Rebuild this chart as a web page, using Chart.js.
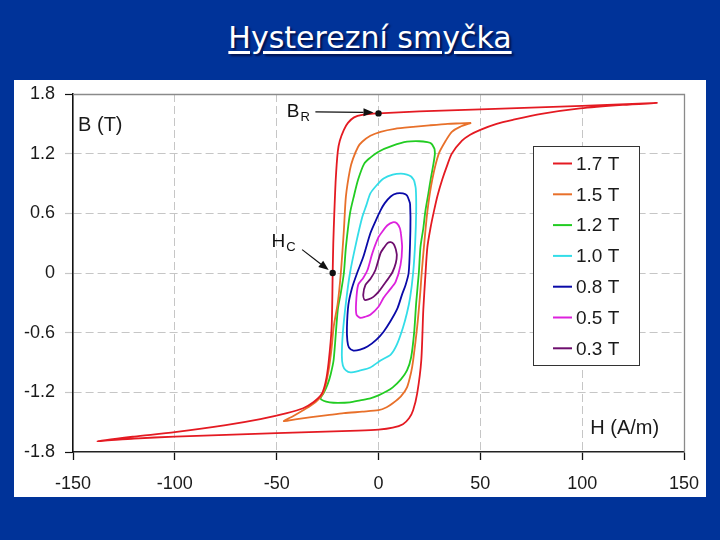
<!DOCTYPE html>
<html>
<head>
<meta charset="utf-8">
<script src="https://cdn.jsdelivr.net/npm/chart.js@4"></script>
<style>
  html, body { margin:0; padding:0; }
  body { width:720px; height:540px; background:#003399; position:relative; overflow:hidden; }
  #title { position:absolute; left:10px; width:720px; top:21px; text-align:center;
    font-family:"DejaVu Sans", sans-serif; font-size:30px; line-height:34px; color:#fff;
    text-decoration:underline; text-decoration-thickness:3px; text-underline-offset:3px;
    text-shadow:2px 2px 2px rgba(0,0,40,0.7); }
  #panel { position:absolute; left:14px; top:80px; width:692px; height:417px; background:#fff; }
  canvas { display:block; }
</style>
</head>
<body>
<div id="title">Hysterezní smyčka</div>
<div id="panel"><canvas id="c" width="692" height="417" style="width:692px;height:417px"></canvas></div>
<script>
// ---------- DATA (H in A/m, B in T), each loop: upper branch then lower branch ----------
const seriesLabels = ['1.7 T', '1.5 T', '1.2 T', '1.0 T', '0.8 T', '0.5 T', '0.3 T'];

const H_17 = [137,100,50,20,0,-8,-12,-15,-17,-19,-20,-21,-21.7,-22.2,-22.5,-23,-24.5,-26,-28,-32,-37,-45,-58,-75,-100,-120,-138,
              -120,-100,-50,-10,0,7,12,15,17,19,21,22,23.1,24,25.5,27.2,29,31.3,33.5,36,41,45,50,58,66,80,99,120,137];
const B_17 = [1.71,1.68,1.645,1.625,1.605,1.59,1.565,1.51,1.44,1.33,1.22,0.94,0.6,0.3,0,-0.54,-0.9,-1.1,-1.22,-1.30,-1.36,-1.41,-1.47,-1.53,-1.60,-1.645,-1.69,
              -1.665,-1.645,-1.61,-1.585,-1.575,-1.555,-1.52,-1.46,-1.38,-1.21,-0.88,-0.37,0,0.26,0.45,0.62,0.78,0.94,1.07,1.2,1.33,1.39,1.44,1.5,1.54,1.6,1.655,1.69,1.71];

const H_15 = [45.5,40,34,25,17,8,1,-4,-8,-10,-12.5,-14,-16,-17,-18.5,-20,-22,-23,-24.5,-27,-31,-37,-42,-46.5,
              -40,-33,-25,-17,-8,0,4,7,11,14,16,17,19,20.5,21.2,22.3,24,26.4,29.6,33,36,40,45.5];
const B_15 = [1.51,1.505,1.50,1.485,1.47,1.45,1.42,1.38,1.32,1.27,1.15,1.04,0.77,0.43,0,-0.3,-0.54,-0.75,-0.98,-1.2,-1.3,-1.38,-1.44,-1.49,
              -1.47,-1.45,-1.43,-1.41,-1.395,-1.38,-1.35,-1.31,-1.24,-1.15,-1.0,-0.88,-0.54,-0.2,0,0.26,0.62,0.94,1.2,1.33,1.42,1.47,1.51];

const H_12 = [27.5,26,24,20,14,7,0,-4,-7,-10,-12,-14,-16,-17,-18.5,-20,-22,-23.5,-25,-27,-28.5,
              -27,-24,-20,-14,-9,-4,0,4,7,11,14,16,17.5,18.5,19.8,20.6,22,23,24.5,25.6,27,27.7,27.5];
const B_12 = [1.25,1.30,1.315,1.325,1.32,1.28,1.22,1.16,1.10,0.94,0.78,0.60,0.26,0,-0.2,-0.37,-0.87,-1.02,-1.12,-1.21,-1.26,
              -1.285,-1.3,-1.305,-1.30,-1.28,-1.26,-1.23,-1.19,-1.15,-1.07,-0.98,-0.85,-0.6,-0.3,0,0.26,0.45,0.62,0.8,0.94,1.1,1.2,1.25];

const H_10 = [17.5,16,14,11,7,2.5,-1,-4,-6,-8,-11,-14,-16,-17.5,-18,-17.5,-16,
              -13.8,-9,-4,1,6,9,12,14,15.5,17,18,18.5,18.3,17.5];
const B_10 = [0.93,0.97,0.99,1.0,0.99,0.95,0.88,0.80,0.68,0.56,0.30,0.0,-0.3,-0.6,-0.83,-0.93,-0.98,
              -1.0,-0.98,-0.95,-0.88,-0.82,-0.72,-0.55,-0.40,-0.25,0.0,0.30,0.62,0.85,0.93];

const H_08 = [15.5,14,12,9,6,3,1,-1.5,-4,-7.5,-10.5,-13,-14.8,-15.5,-15.3,-14.5,-12.3,
              -9,-5.4,-1,2.5,6,9.4,11.5,13.3,14.8,15.5,15.7,15.5];
const B_08 = [0.70,0.78,0.80,0.80,0.77,0.70,0.63,0.52,0.40,0.16,0.0,-0.15,-0.32,-0.55,-0.68,-0.75,-0.78,
              -0.77,-0.74,-0.67,-0.59,-0.48,-0.35,-0.22,-0.12,0.0,0.30,0.55,0.70];

const H_05 = [11,10.5,9,7,4.4,2,0,-3,-5.4,-7.5,-10,-11,-10.8,-9,
              -6.5,-4,0,2.5,5.5,8.4,10.8,11.6,11];
const B_05 = [0.40,0.45,0.50,0.51,0.48,0.42,0.36,0.20,0.03,-0.05,-0.12,-0.30,-0.42,-0.45,
              -0.44,-0.42,-0.34,-0.25,-0.17,-0.09,0.08,0.26,0.40];

const H_03 = [8.5,7.5,6,4.4,2.5,1,-1.5,-4,-6.4,-7.5,-6.8,
              -5,-2.5,0,2.5,5,6.9,8.5,9,8.5];
const B_03 = [0.24,0.29,0.31,0.30,0.25,0.20,0.03,-0.06,-0.12,-0.22,-0.27,
              -0.265,-0.24,-0.19,-0.12,-0.05,0.01,0.10,0.18,0.24];

const xTicks = [-150, -100, -50, 0, 50, 100, 150];
const xTickLabels = ['-150', '-100', '-50', '0', '50', '100', '150'];
const yTicks = [-1.8, -1.2, -0.6, 0, 0.6, 1.2, 1.8];
const yTickLabels = ['-1.8', '-1.2', '-0.6', '0', '0.6', '1.2', '1.8'];

// annotation anchor points (data coordinates)
const remanence = { H: 0, B: 1.605 };
const coercive  = { H: -22.5, B: 0 };

// ---------- STYLE ----------
const colors = ['#e41a22', '#e8702a', '#22cc22', '#33dde8', '#0a0aa8', '#dd22dd', '#6e0e6e'];
const FONT = '"Liberation Sans", Arial, sans-serif';

const loopsH = [H_17, H_15, H_12, H_10, H_08, H_05, H_03];
const loopsB = [B_17, B_15, B_12, B_10, B_08, B_05, B_03];

const datasets = loopsH.map((hs, i) => ({
  label: seriesLabels[i],
  data: hs.map((h, k) => ({ x: h, y: loopsB[i][k] })),
  showLine: true,
  borderColor: colors[i],
  backgroundColor: colors[i],
  borderWidth: 1.8,
  pointRadius: 0,
  tension: 0.25,
  fill: false
}));

function arrow(ctx, x1, y1, x2, y2) {
  const ang = Math.atan2(y2 - y1, x2 - x1);
  const hl = 10, hw = 4;
  ctx.beginPath();
  ctx.moveTo(x1, y1);
  ctx.lineTo(x2 - hl * Math.cos(ang), y2 - hl * Math.sin(ang));
  ctx.stroke();
  ctx.beginPath();
  ctx.moveTo(x2, y2);
  ctx.lineTo(x2 - hl * Math.cos(ang) + hw * Math.sin(ang), y2 - hl * Math.sin(ang) - hw * Math.cos(ang));
  ctx.lineTo(x2 - hl * Math.cos(ang) - hw * Math.sin(ang), y2 - hl * Math.sin(ang) + hw * Math.cos(ang));
  ctx.closePath();
  ctx.fill();
}

const decor = {
  id: 'decor',
  afterDatasetsDraw(chart) {
    const { ctx, chartArea: a, scales: { x, y } } = chart;
    ctx.save();
    // frame top/right
    ctx.strokeStyle = '#8a8a8a';
    ctx.lineWidth = 1.3;
    ctx.beginPath();
    ctx.moveTo(a.left, a.top + 0.5);
    ctx.lineTo(a.right + 0.5, a.top + 0.5);
    ctx.lineTo(a.right + 0.5, a.bottom);
    ctx.stroke();

    ctx.fillStyle = '#111';
    ctx.strokeStyle = '#111';
    ctx.lineWidth = 1.2;
    // remanence
    const bx = x.getPixelForValue(remanence.H), by = y.getPixelForValue(remanence.B);
    ctx.beginPath(); ctx.arc(bx, by, 3.2, 0, Math.PI * 2); ctx.fill();
    arrow(ctx, x.getPixelForValue(-31), y.getPixelForValue(1.62), bx - 5, by - 1);
    ctx.textBaseline = 'alphabetic';
    ctx.textAlign = 'left';
    let tx = x.getPixelForValue(-45), ty = y.getPixelForValue(1.565);
    ctx.font = '19px ' + FONT;
    ctx.fillText('B', tx, ty);
    let w = ctx.measureText('B').width;
    ctx.font = '13px ' + FONT;
    ctx.fillText('R', tx + w + 1, ty + 4);
    // coercivity
    const hx = x.getPixelForValue(coercive.H), hy = y.getPixelForValue(coercive.B);
    ctx.beginPath(); ctx.arc(hx, hy, 3.2, 0, Math.PI * 2); ctx.fill();
    arrow(ctx, x.getPixelForValue(-37.5), y.getPixelForValue(0.235), hx - 4, hy - 3);
    tx = x.getPixelForValue(-52.5); ty = y.getPixelForValue(0.26);
    ctx.font = '19px ' + FONT;
    ctx.fillText('H', tx, ty);
    w = ctx.measureText('H').width;
    ctx.font = '13px ' + FONT;
    ctx.fillText('C', tx + w + 1, ty + 4);

    // axis titles
    ctx.font = '20px ' + FONT;
    ctx.fillStyle = '#1a1a1a';
    ctx.fillText('B (T)', x.getPixelForValue(-147.5), y.getPixelForValue(1.43));
    ctx.fillText('H (A/m)', x.getPixelForValue(104), y.getPixelForValue(-1.615));

    // legend box
    const lx = a.right - 151, ly = a.top + 52, lw = 106, lh = 219;
    ctx.fillStyle = '#fff';
    ctx.fillRect(lx, ly, lw, lh);
    ctx.strokeStyle = '#333';
    ctx.lineWidth = 1;
    ctx.strokeRect(lx + 0.5, ly + 0.5, lw, lh);
    ctx.font = '19px ' + FONT;
    ctx.textBaseline = 'middle';
    chart.data.datasets.forEach((ds, i) => {
      const cy = ly + 17.5 + i * 30.8;
      ctx.strokeStyle = ds.borderColor;
      ctx.lineWidth = 2;
      ctx.beginPath();
      ctx.moveTo(lx + 20, cy);
      ctx.lineTo(lx + 39, cy);
      ctx.stroke();
      ctx.fillStyle = '#1a1a1a';
      ctx.fillText(ds.label, lx + 43, cy + 1);
    });
    ctx.restore();
  }
};

new Chart(document.getElementById('c'), {
  type: 'scatter',
  data: { datasets },
  options: {
    responsive: false,
    animation: false,
    layout: { padding: { top: 14, right: 22, left: 0, bottom: 0 } },
    plugins: { legend: { display: false }, tooltip: { enabled: false }, title: { display: false } },
    scales: {
      x: {
        type: 'linear', min: -150, max: 150,
        afterBuildTicks: (ax) => { ax.ticks = xTicks.map(v => ({ value: v })); },
        afterFit: (ax) => { ax.height = 45; ax.paddingLeft = 0; ax.paddingRight = 0; },
        ticks: {
          autoSkip: false, maxRotation: 0, padding: 13,
          color: '#1a1a1a', font: { family: FONT, size: 18 },
          callback: (v) => { const i = xTicks.indexOf(v); return i >= 0 ? xTickLabels[i] : ''; }
        },
        grid: {
          color: (c) => (c.tick && (c.tick.value === -150 || c.tick.value === 150)) ? 'rgba(0,0,0,0)' : '#c6c6c6',
          lineWidth: 1,
          tickLength: 8, tickColor: '#111', tickWidth: 1.3, tickBorderDash: []
        },
        border: { display: true, color: '#222', width: 1.6, dash: [8, 4] }
      },
      y: {
        type: 'linear', min: -1.8, max: 1.8,
        afterBuildTicks: (ax) => { ax.ticks = yTicks.map(v => ({ value: v })); },
        afterFit: (ax) => { ax.width = 59; ax.paddingTop = 0; ax.paddingBottom = 0; },
        ticks: {
          autoSkip: false, padding: 10,
          color: '#1a1a1a', font: { family: FONT, size: 18 },
          callback: (v) => { const i = yTicks.findIndex(t => Math.abs(t - v) < 1e-9); return i >= 0 ? yTickLabels[i] : ''; }
        },
        grid: {
          color: (c) => (c.tick && Math.abs(Math.abs(c.tick.value) - 1.8) < 1e-9) ? 'rgba(0,0,0,0)' : '#c6c6c6',
          lineWidth: 1,
          tickLength: 8,
          tickColor: (c) => (c.tick && Math.abs(Math.abs(c.tick.value) - 1.8) < 1e-9) ? '#111' : '#c6c6c6',
          tickWidth: 1.2
        },
        border: { display: true, color: '#111', width: 1.6, dash: [8, 4] }
      }
    }
  },
  plugins: [decor]
});
</script>
</body>
</html>
